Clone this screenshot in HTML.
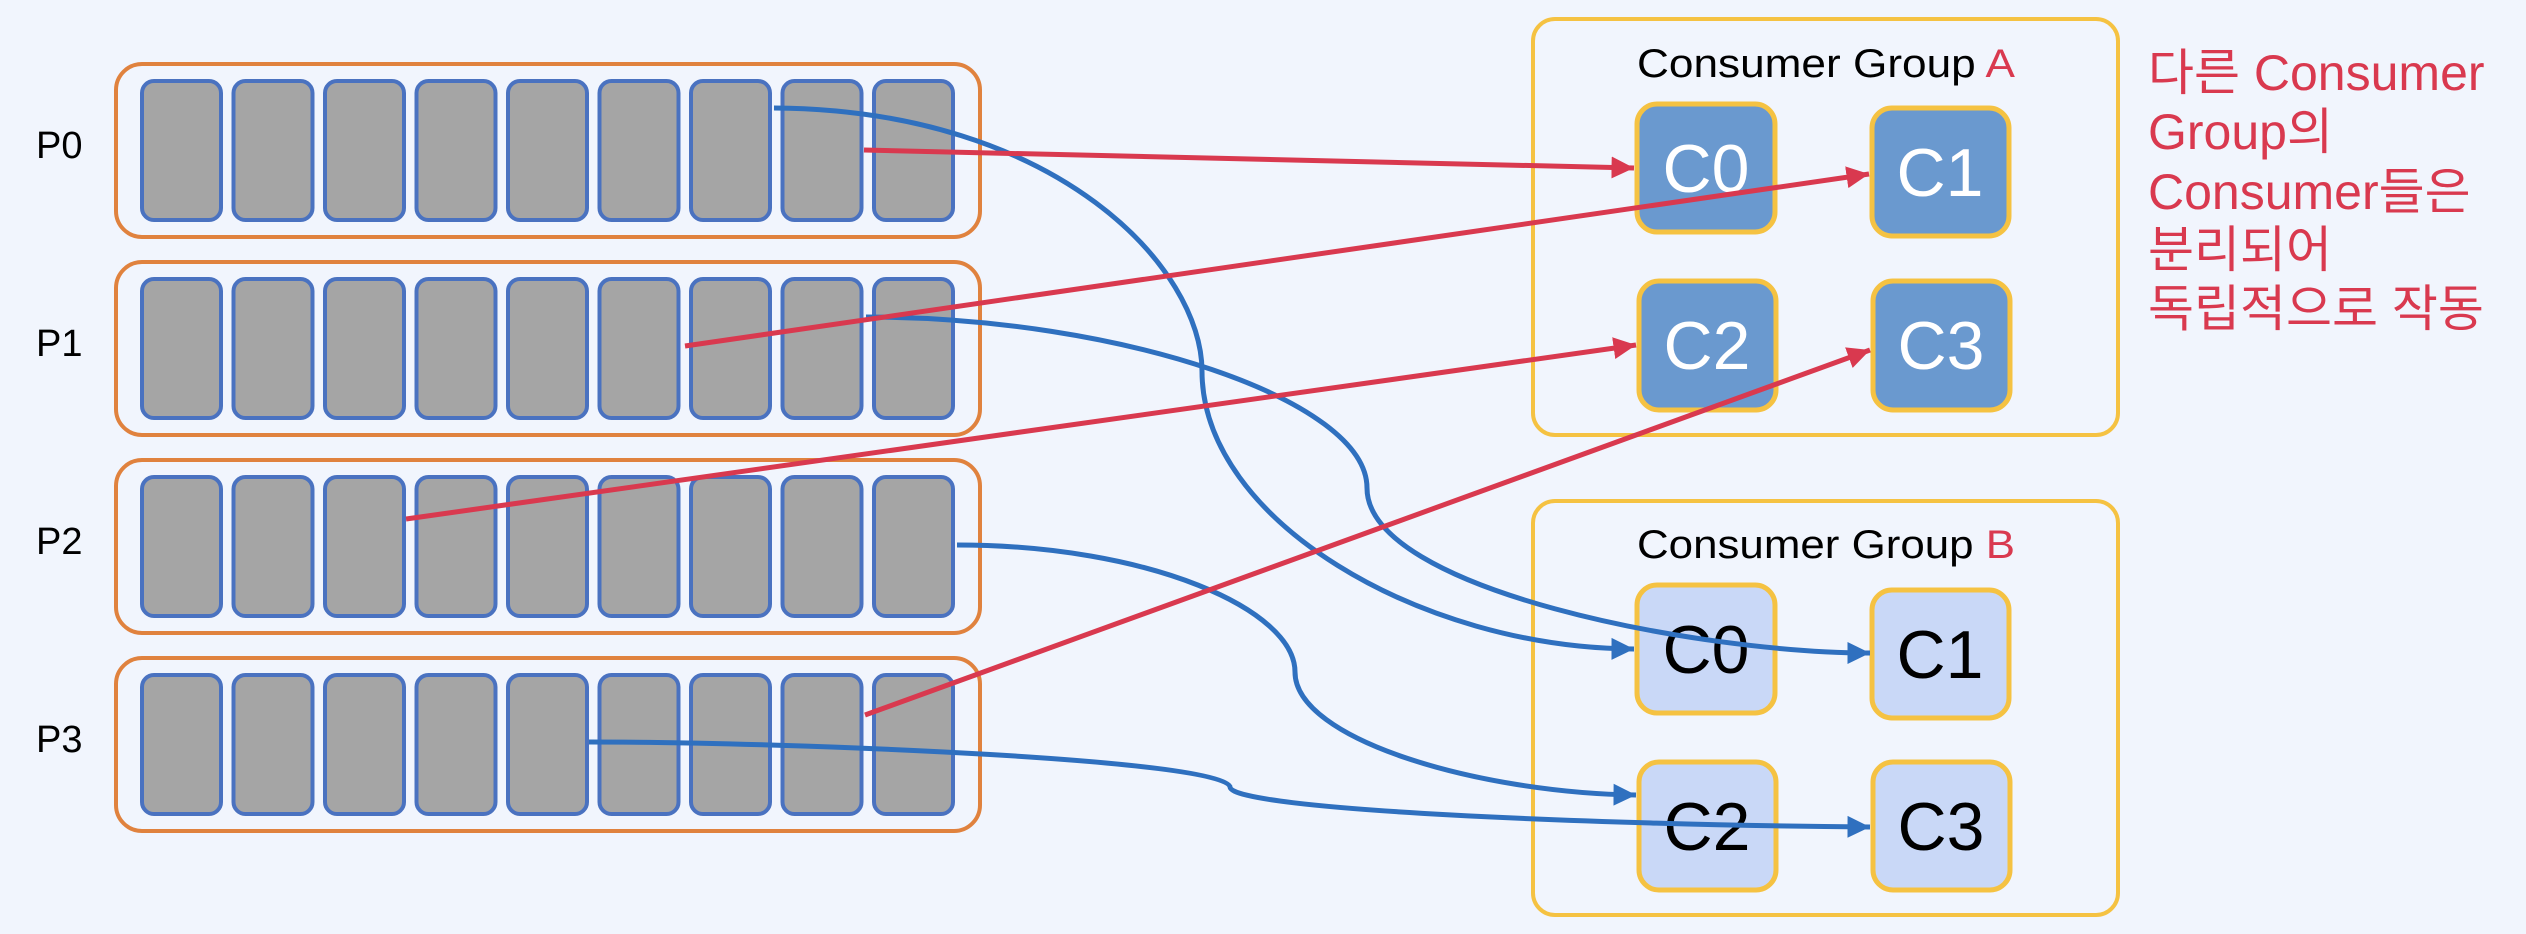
<!DOCTYPE html>
<html><head><meta charset="utf-8"><style>
html,body{margin:0;padding:0;background:#f1f5fd;}
svg{display:block}
</style></head><body>
<svg width="2526" height="934" viewBox="0 0 2526 934" xmlns="http://www.w3.org/2000/svg">
<defs>
<marker id="ar" markerWidth="5" markerHeight="5" refX="4.5" refY="2.5" orient="auto" markerUnits="strokeWidth"><path d="M0,0.3 L4.5,2.5 L0,4.7 Z" fill="#d9394f"/></marker>
<marker id="ab" markerWidth="5" markerHeight="5" refX="4.5" refY="2.5" orient="auto" markerUnits="strokeWidth"><path d="M0,0.3 L4.5,2.5 L0,4.7 Z" fill="#2f70bf"/></marker>
<g id="row">
<rect x="116" y="0" width="864" height="173" rx="26" fill="#f1f5fd" stroke="#e0823e" stroke-width="4"/>
<rect x="142" y="17" width="79" height="139" rx="12" fill="#a5a5a5" stroke="#4a72c0" stroke-width="4"/>
<rect x="233.5" y="17" width="79" height="139" rx="12" fill="#a5a5a5" stroke="#4a72c0" stroke-width="4"/>
<rect x="325" y="17" width="79" height="139" rx="12" fill="#a5a5a5" stroke="#4a72c0" stroke-width="4"/>
<rect x="416.5" y="17" width="79" height="139" rx="12" fill="#a5a5a5" stroke="#4a72c0" stroke-width="4"/>
<rect x="508" y="17" width="79" height="139" rx="12" fill="#a5a5a5" stroke="#4a72c0" stroke-width="4"/>
<rect x="599.5" y="17" width="79" height="139" rx="12" fill="#a5a5a5" stroke="#4a72c0" stroke-width="4"/>
<rect x="691" y="17" width="79" height="139" rx="12" fill="#a5a5a5" stroke="#4a72c0" stroke-width="4"/>
<rect x="782.5" y="17" width="79" height="139" rx="12" fill="#a5a5a5" stroke="#4a72c0" stroke-width="4"/>
<rect x="874" y="17" width="79" height="139" rx="12" fill="#a5a5a5" stroke="#4a72c0" stroke-width="4"/>
</g>
</defs>
<use href="#row" y="64"/>
<use href="#row" y="262"/>
<use href="#row" y="460"/>
<use href="#row" y="658"/>
<g font-family="'Liberation Sans', sans-serif" font-size="38" fill="#000">
<text x="36" y="158">P0</text>
<text x="36" y="356">P1</text>
<text x="36" y="554">P2</text>
<text x="36" y="752">P3</text>
</g>
<rect x="1533" y="19" width="585" height="416" rx="22" fill="none" stroke="#f5c242" stroke-width="4"/>
<rect x="1533" y="501" width="585" height="414" rx="22" fill="none" stroke="#f5c242" stroke-width="4"/>
<g font-family="'Liberation Sans', sans-serif" font-size="40">
<text x="1637" y="77" textLength="378" lengthAdjust="spacingAndGlyphs">Consumer Group <tspan fill="#d9394f">A</tspan></text>
<text x="1637" y="558" textLength="378" lengthAdjust="spacingAndGlyphs">Consumer Group <tspan fill="#d9394f">B</tspan></text>
</g>
<g stroke="#f5c242" stroke-width="5">
<rect x="1637" y="104" width="138" height="128" rx="20" fill="#6a99cf"/>
<rect x="1872" y="108" width="137" height="128" rx="20" fill="#6a99cf"/>
<rect x="1639" y="281" width="137" height="129" rx="20" fill="#6a99cf"/>
<rect x="1873" y="281" width="137" height="129" rx="20" fill="#6a99cf"/>
<rect x="1637" y="585" width="138" height="128" rx="20" fill="#c9d8f7"/>
<rect x="1872" y="590" width="137" height="128" rx="20" fill="#c9d8f7"/>
<rect x="1639" y="762" width="137" height="128" rx="20" fill="#c9d8f7"/>
<rect x="1873" y="762" width="137" height="128" rx="20" fill="#c9d8f7"/>
</g>
<g font-family="'Liberation Sans', sans-serif" font-size="68" text-anchor="middle">
<g fill="#fff">
<text x="1706" y="192">C0</text><text x="1940" y="196">C1</text>
<text x="1707" y="369">C2</text><text x="1941" y="369">C3</text>
</g>
<g fill="#000">
<text x="1706" y="673">C0</text><text x="1940" y="678">C1</text>
<text x="1707" y="850">C2</text><text x="1941" y="850">C3</text>
</g>
</g>
<g font-family="'Liberation Sans', 'Noto Sans CJK KR', sans-serif" font-size="50" fill="#d9394f">
<text x="2148" y="90">다른 Consumer</text>
<text x="2148" y="149">Group의</text>
<text x="2148" y="209">Consumer들은</text>
<text x="2148" y="267">분리되어</text>
<text x="2148" y="326">독립적으로 작동</text>
</g>
<g fill="none" stroke="#2f70bf" stroke-width="5" marker-end="url(#ab)">
<path d="M774,108 C1060,110 1202,270 1202,371 C1202,520 1420,648 1634,649"/>
<path d="M866,317 C1120,317 1367,400 1367,488 C1367,590 1700,653 1870,653"/>
<path d="M957,545 C1150,545 1295,610 1295,672 C1295,740 1480,793 1636,795"/>
<path d="M589,742 C800,742 1228,760 1230,787 C1232,810 1600,825 1870,827"/>
</g>
<g fill="none" stroke="#d9394f" stroke-width="5" marker-end="url(#ar)">
<path d="M864,150 L1634,168"/>
<path d="M685,346 L1869,174"/>
<path d="M406,519 L1636,345"/>
<path d="M865,715 L1870,350"/>
</g>
</svg>
</body></html>
